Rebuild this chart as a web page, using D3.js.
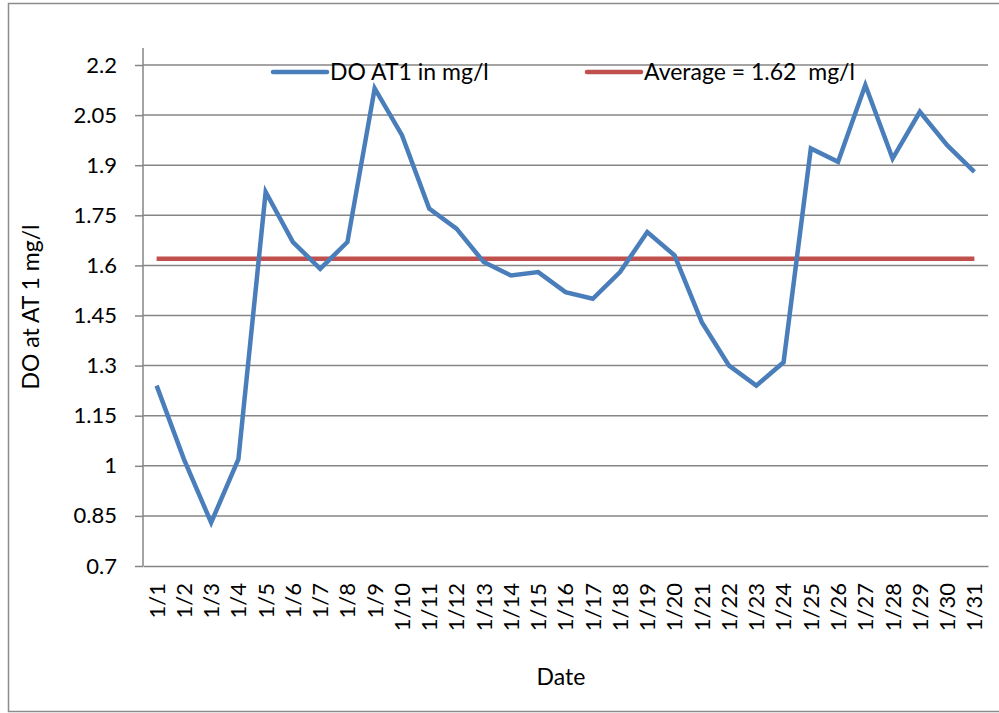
<!DOCTYPE html>
<html>
<head>
<meta charset="utf-8">
<script src="https://cdn.jsdelivr.net/npm/d3@7"></script>
<style>
  html, body { margin: 0; padding: 0; background: #fff; }
  svg { display: block; font-family: Lato, "Open Sans", sans-serif; }
  text { white-space: pre; }
</style>
</head>
<body>
<svg id="chart" width="999" height="713"></svg>
<script>
const dates = ["1/1","1/2","1/3","1/4","1/5","1/6","1/7","1/8","1/9","1/10","1/11","1/12","1/13","1/14","1/15","1/16","1/17","1/18","1/19","1/20","1/21","1/22","1/23","1/24","1/25","1/26","1/27","1/28","1/29","1/30","1/31"];
const doValues = [1.24,1.02,0.83,1.02,1.82,1.67,1.59,1.67,2.13,1.99,1.77,1.71,1.61,1.57,1.58,1.52,1.50,1.58,1.70,1.63,1.43,1.30,1.24,1.31,1.95,1.91,2.14,1.92,2.06,1.96,1.88];
const averageValue = 1.62;
const yTicks = [0.7,0.85,1,1.15,1.3,1.45,1.6,1.75,1.9,2.05,2.2];
const seriesNames = ["DO AT1 in mg/l", "Average = 1.62  mg/l"];
const yTitle = "DO at AT 1 mg/l";
const xTitle = "Date";

const svg = d3.select("#chart");
const plot = {left: 143, right: 988, top: 65, bottom: 566};
const blue = "#4a7ebb", red = "#c0504d", grid = "#868686";

// outer border
svg.append("rect").attr("x", 8.5).attr("y", 3.5).attr("width", 1000).attr("height", 708)
  .attr("fill", "none").attr("stroke", "#8c8c8c").attr("stroke-width", 1.5);

const x = d3.scaleBand().domain(dates).range([plot.left, plot.right]).padding(0);
const y = d3.scaleLinear().domain([0.7, 2.2]).range([plot.bottom, plot.top]);
const cx = d => x(d) + x.bandwidth() / 2;

// gridlines
svg.append("g").selectAll("line").data(yTicks.slice(1)).join("line")
  .attr("x1", plot.left).attr("x2", plot.right)
  .attr("y1", d => y(d)).attr("y2", d => y(d))
  .attr("stroke", grid).attr("stroke-width", 1.5);

// y axis
const yAxis = svg.append("g").attr("transform", `translate(${plot.left},0)`)
  .call(d3.axisLeft(y).tickValues(yTicks).tickSize(8).tickPadding(18).tickFormat(d => String(d)));
yAxis.select(".domain").remove();
yAxis.selectAll(".tick line").attr("stroke", grid).attr("stroke-width", 1.5);
yAxis.selectAll(".tick text").attr("font-size", 22).attr("fill", "#000").attr("font-family", "Lato");
svg.append("line").attr("x1", plot.left).attr("x2", plot.left).attr("y1", 48).attr("y2", plot.bottom)
  .attr("stroke", grid).attr("stroke-width", 1.5);

// x axis
const xAxis = svg.append("g").attr("transform", `translate(0,${plot.bottom})`)
  .call(d3.axisBottom(x).tickSize(0).tickPadding(0));
xAxis.select(".domain").attr("stroke", grid).attr("stroke-width", 1.5);
xAxis.selectAll(".tick text")
  .attr("font-size", 22).attr("fill", "#000").attr("font-family", "Lato")
  .attr("transform", "rotate(-90)")
  .attr("text-anchor", "end")
  .attr("x", -17).attr("y", 0).attr("dy", "0.36em");

// average line
svg.append("line")
  .attr("x1", cx(dates[0])).attr("x2", cx(dates[dates.length - 1]))
  .attr("y1", y(averageValue)).attr("y2", y(averageValue))
  .attr("stroke", red).attr("stroke-width", 4.5);

// data line
const line = d3.line().x((d, i) => cx(dates[i])).y(d => y(d));
svg.append("path").datum(doValues).attr("d", line)
  .attr("fill", "none").attr("stroke", blue).attr("stroke-width", 4.5).attr("stroke-linejoin", "miter");

// legend
const legend = [
  {name: seriesNames[0], color: blue, x: 273},
  {name: seriesNames[1], color: red, x: 587}
];
const lg = svg.append("g").selectAll("g").data(legend).join("g")
  .attr("transform", d => `translate(${d.x},72)`);
lg.append("line").attr("x1", 0).attr("x2", 54).attr("y1", 0).attr("y2", 0)
  .attr("stroke", d => d.color).attr("stroke-width", 4.5).attr("stroke-linecap", "round");
lg.append("text").attr("x", 57).attr("y", 8).attr("font-size", 23).attr("fill", "#000")
  .attr("xml:space", "preserve")
  .text(d => d.name);

// axis titles
svg.append("text").attr("transform", "translate(39,307) rotate(-90)")
  .attr("text-anchor", "middle").attr("font-size", 23).attr("fill", "#000").text(yTitle);
svg.append("text").attr("x", 561).attr("y", 685)
  .attr("text-anchor", "middle").attr("font-size", 23).attr("fill", "#000").text(xTitle);
</script>
</body>
</html>
